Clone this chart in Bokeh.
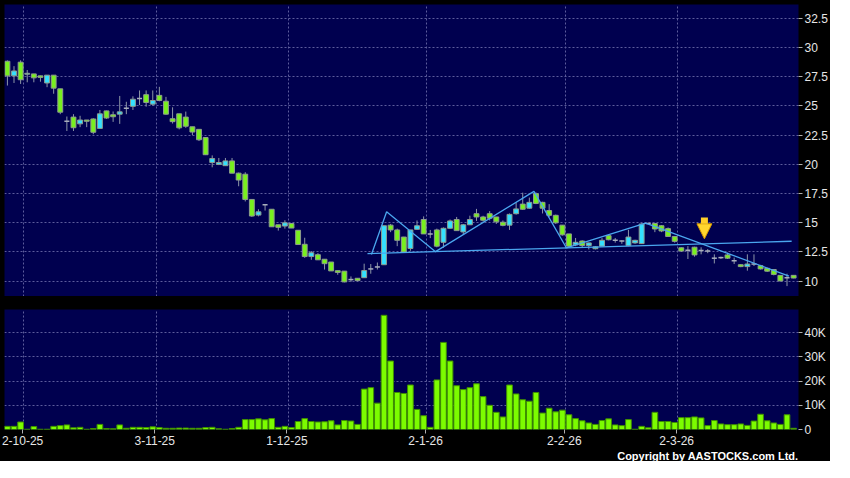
from bokeh.plotting import figure
from bokeh.layouts import column
from bokeh.models import ColumnDataSource, FixedTicker, Range1d, Arrow, NormalHead, Title
from bokeh.embed import file_html
from bokeh.resources import INLINE

# ---------------- data ----------------
open_p = [28.83, 27.58, 28.75, 27.72, 27.75, 27.58, 26.97, 27.64, 26.47, 23.70,
          24.05, 23.47, 23.80, 23.89, 23.08, 24.58, 24.25, 24.30, 24.80, 24.97,
          25.64, 25.97, 25.16, 25.91, 25.41, 23.91, 24.33, 24.05, 23.22, 23.00,
          22.30, 20.16, 20.00, 19.89, 20.30, 19.25, 19.16, 17.00, 15.66, 16.55,
          16.16, 14.83, 14.72, 14.94, 14.36, 13.16, 12.11, 12.27, 11.88, 11.64,
          10.90, 10.86, 10.14, 10.25, 10.30, 11.05, 11.22, 11.41, 14.80, 14.39,
          13.78, 12.80, 14.44, 15.28, 14.05, 14.39, 13.33, 14.53, 15.28, 14.22,
          14.83, 15.78, 15.50, 15.78, 15.50, 15.05, 14.80, 15.78, 16.60, 16.25,
          17.50, 16.75, 16.05, 15.64, 14.80, 14.05, 13.11, 13.44, 13.05, 12.78,
          13.00, 13.90, 13.50, 13.44, 13.05, 13.28, 13.22, 14.95, 14.94, 14.75,
          14.50, 13.83, 12.86, 12.66, 12.91, 12.63, 12.58, 11.97, 12.02, 12.25,
          11.75, 11.41, 11.25, 11.47, 11.33, 11.10, 11.00, 10.50, 10.30, 10.50]
high_p = [28.90, 28.41, 28.91, 28.08, 27.75, 27.60, 27.64, 27.64, 26.47, 24.10,
          24.30, 24.16, 23.80, 23.95, 24.66, 24.60, 24.53, 25.86, 25.36, 25.83,
          26.33, 26.33, 26.33, 26.64, 25.78, 24.89, 24.33, 24.52, 23.22, 23.00,
          22.30, 20.77, 20.55, 20.55, 20.55, 19.30, 19.33, 17.00, 16.16, 16.55,
          16.16, 14.83, 15.22, 14.94, 14.36, 13.72, 12.58, 12.40, 11.88, 11.64,
          10.90, 10.86, 10.41, 10.25, 11.50, 11.47, 11.60, 14.75, 14.90, 14.50,
          13.80, 14.39, 15.20, 15.55, 14.39, 14.50, 14.60, 15.28, 15.50, 14.90,
          15.61, 16.19, 15.60, 16.00, 15.50, 15.20, 15.80, 16.75, 17.58, 17.16,
          17.60, 16.80, 16.60, 15.70, 14.80, 14.05, 13.70, 13.50, 13.30, 13.00,
          13.69, 14.00, 13.70, 13.50, 14.40, 13.55, 14.95, 15.00, 15.00, 14.80,
          14.60, 13.83, 12.90, 13.00, 12.95, 12.90, 12.75, 12.30, 12.10, 12.44,
          12.02, 11.45, 12.30, 12.30, 11.40, 11.15, 11.00, 10.50, 10.64, 10.50]
low_p = [26.75, 26.97, 26.89, 27.03, 27.03, 27.08, 26.61, 26.05, 24.30, 22.86,
         22.86, 23.19, 23.19, 22.58, 23.08, 23.90, 23.64, 23.47, 24.30, 24.66,
         25.08, 24.94, 25.03, 25.40, 24.25, 23.50, 23.00, 23.13, 22.50, 22.00,
         20.80, 19.75, 19.94, 19.89, 19.25, 18.13, 16.83, 15.50, 15.55, 16.05,
         14.66, 14.33, 14.50, 14.55, 13.14, 12.00, 11.83, 11.83, 11.00, 10.88,
         10.55, 9.90, 9.94, 10.00, 10.30, 10.64, 11.00, 11.41, 14.20, 13.00,
         12.45, 12.60, 14.40, 14.05, 13.69, 12.90, 12.86, 14.50, 14.33, 14.00,
         14.83, 15.16, 15.10, 15.20, 14.90, 14.70, 14.39, 15.70, 16.10, 16.20,
         16.60, 15.80, 15.50, 14.90, 13.90, 12.86, 13.00, 12.90, 12.72, 12.72,
         13.00, 13.50, 13.30, 13.20, 13.00, 13.20, 13.20, 14.90, 14.20, 14.20,
         13.80, 13.30, 12.50, 11.90, 12.10, 12.30, 12.40, 11.52, 11.90, 11.90,
         11.47, 11.20, 10.90, 11.30, 11.00, 10.80, 10.50, 10.00, 9.58, 10.25]
close_p = [27.58, 28.00, 27.25, 27.80, 27.41, 27.45, 27.64, 26.53, 24.47, 23.70,
           23.14, 23.80, 23.69, 22.75, 24.33, 23.97, 24.08, 24.50, 24.80, 25.58,
           25.64, 25.30, 25.47, 25.47, 24.30, 23.66, 23.13, 23.27, 22.77, 22.11,
           20.83, 20.50, 20.16, 20.30, 19.25, 18.66, 17.00, 15.58, 15.94, 16.55,
           14.66, 14.61, 15.00, 14.55, 13.14, 12.11, 12.44, 11.83, 11.50, 10.88,
           10.75, 9.94, 10.14, 10.05, 10.91, 11.05, 11.22, 14.75, 14.39, 13.50,
           12.50, 14.39, 14.75, 14.05, 14.05, 13.00, 14.53, 15.16, 14.33, 14.83,
           15.28, 15.50, 15.22, 15.39, 15.08, 14.78, 15.72, 16.19, 16.16, 16.75,
           16.66, 16.25, 15.64, 15.00, 13.97, 13.00, 13.33, 13.05, 13.28, 12.94,
           13.50, 13.55, 13.50, 13.44, 13.78, 13.50, 14.90, 14.95, 14.47, 14.30,
           13.83, 13.41, 12.58, 12.66, 12.25, 12.63, 12.58, 11.97, 12.02, 11.97,
           11.75, 11.25, 11.47, 11.47, 11.05, 10.86, 10.58, 10.02, 10.30, 10.27]
volume_k = [1.3, 1.3, 3.1, 0.1, 1.2, 0.1, 0.1, 1.3, 1.6, 1.9,
            0.7, 0.9, 0.1, 0.4, 2.1, 0.4, 0.3, 1.9, 0.5, 0.9,
            0.9, 0.8, 1.1, 0.8, 0.5, 0.5, 0.6, 0.6, 0.5, 0.5,
            0.8, 0.9, 0.3, 0.1, 0.4, 0.9, 4.1, 4.1, 4.4, 4.0,
            4.5, 0.9, 1.3, 0.8, 3.3, 4.5, 3.3, 3.1, 3.2, 3.6,
            1.9, 3.7, 3.5, 2.1, 16.7, 17.3, 10.9, 47.2, 28.3, 15.3,
            14.9, 18.4, 8.3, 5.7, 0.9, 20.5, 36.0, 28.3, 18.1, 16.5,
            17.3, 18.9, 13.6, 10.0, 7.1, 5.2, 18.4, 14.7, 12.3, 11.7,
            15.3, 6.8, 8.8, 7.3, 8.0, 6.1, 4.5, 3.6, 2.7, 2.1,
            3.7, 4.4, 1.9, 1.6, 4.1, 0.1, 1.3, 0.7, 7.1, 3.3,
            3.3, 2.9, 4.9, 4.9, 5.2, 4.8, 1.6, 3.7, 2.3, 2.0,
            2.0, 2.3, 1.7, 3.5, 6.3, 3.6, 2.7, 2.1, 6.1, 0.5]

date_labels = ["2-10-25", "3-11-25", "1-12-25", "2-1-26", "2-2-26", "2-3-26"]
date_label_idx = [2, 22, 42, 63, 84, 101]
price_ticks = [10, 12.5, 15, 17.5, 20, 22.5, 25, 27.5, 30, 32.5]
volume_ticks = [0, 10, 20, 30, 40]
volume_tick_labels = ["0", "10K", "20K", "30K", "40K"]

# drawn pattern lines and arrow (index, price)
zigzag_idx = [55.1, 57.4, 64.8, 79.7, 84.6, 96.6, 118.3]
zigzag_price = [12.28, 15.94, 12.53, 17.69, 12.86, 14.98, 10.44]
neck_idx = [54.5, 118.7]
neck_price = [12.36, 13.42]
arrow_idx = 105.5
arrow_from = 15.45
arrow_to = 13.63

# ---------------- styling ----------------
NAVY = "#00004F"
GRID = "#5C5C9C"
GREEN = "#78F01E"
CYAN = "#33E0FF"
WICK = "#8C96A6"
TXT = "#E6E6E6"
FONT = "Liberation Sans"

n = len(close_p)
idx = list(range(n))
up = [c > o for o, c in zip(open_p, close_p)]
doji = [c == o for o, c in zip(open_p, close_p)]

src = ColumnDataSource(dict(x=idx, h=high_p, l=low_p))
body_idx = [i for i in idx if not doji[i]]
body_src = ColumnDataSource(dict(
    x=body_idx,
    top=[max(open_p[i], close_p[i]) for i in body_idx],
    bot=[min(open_p[i], close_p[i]) for i in body_idx],
    col=[CYAN if up[i] else GREEN for i in body_idx],
))
doji_idx = [i for i in idx if doji[i]]
doji_src = ColumnDataSource(dict(
    x0=[i - 0.38 for i in doji_idx], x1=[i + 0.38 for i in doji_idx],
    y=[close_p[i] for i in doji_idx],
))

XR = (-0.44, 119.74)
grid_x = [d + 0.5 for d in date_label_idx]
tick_x = [d + 0.3 for d in date_label_idx]

FW = 794

# ---------------- price panel ----------------
p1 = figure(frame_width=FW, frame_height=292,
            x_range=Range1d(*XR), y_range=Range1d(8.69, 33.69),
            output_backend="svg", toolbar_location=None,
            x_axis_location=None, y_axis_location="right",
            min_border_left=4, min_border_right=28, min_border_top=4, min_border_bottom=0,
            background_fill_color=NAVY, border_fill_color="#000000",
            outline_line_color=None)

for g in (p1.xgrid, p1.ygrid):
    g.grid_line_color = GRID
    g.grid_line_dash = "2 2"
    g.grid_line_width = 1
p1.xgrid.ticker = FixedTicker(ticks=grid_x)
p1.yaxis.ticker = FixedTicker(ticks=price_ticks)
p1.yaxis.major_label_overrides = {t: f"{t:g}" for t in price_ticks}

p1.segment(x0="x", y0="h", x1="x", y1="l", source=src, line_color=WICK, line_width=1)
p1.vbar(x="x", top="top", bottom="bot", width=0.74, source=body_src,
        fill_color="col", line_color="#8E9C8E", line_width=1)
p1.segment(x0="x0", y0="y", x1="x1", y1="y", source=doji_src, line_color="#A8AEBC", line_width=1.5)

p1.line(zigzag_idx, zigzag_price, line_color="#4AA6EE", line_width=1.3)
p1.line(neck_idx, neck_price, line_color="#4AA6EE", line_width=1.3)

p1.add_layout(Arrow(end=NormalHead(size=15, fill_color="#FFD62E", line_color="#D99A00", line_width=1),
                    x_start=arrow_idx, y_start=arrow_from, x_end=arrow_idx, y_end=arrow_to,
                    line_color="#FFCF2A", line_width=7))

# ---------------- volume panel ----------------
p2 = figure(frame_width=FW, frame_height=120,
            x_range=p1.x_range, y_range=Range1d(0, 49.6),
            output_backend="svg", toolbar_location=None,
            y_axis_location="right",
            min_border_left=4, min_border_right=28, min_border_top=13, min_border_bottom=0,
            background_fill_color=NAVY, border_fill_color="#000000",
            outline_line_color=None)
for g in (p2.xgrid, p2.ygrid):
    g.grid_line_color = GRID
    g.grid_line_dash = "2 2"
    g.grid_line_width = 1
p2.xgrid.ticker = FixedTicker(ticks=grid_x)
p2.yaxis.ticker = FixedTicker(ticks=volume_ticks)
p2.yaxis.major_label_overrides = dict(zip(volume_ticks, volume_tick_labels))
p2.xaxis.ticker = FixedTicker(ticks=tick_x)
p2.xaxis.major_label_overrides = dict(zip(tick_x, date_labels))

p2.vbar(x=idx, top=volume_k, width=0.86, fill_color="#7CFC00", line_color="#3F8F00", line_width=1)

for p in (p1, p2):
    for ax in p.axis:
        ax.axis_line_color = None
        ax.axis_label = None
        ax.axis_label_standoff = 0
        ax.major_tick_line_color = "#B0B0B0"
        ax.major_tick_in = 0
        ax.major_tick_out = 4
        ax.minor_tick_line_color = None
        ax.major_label_text_color = TXT
        ax.major_label_text_font = FONT
        ax.major_label_text_font_size = "12px"
        ax.major_label_standoff = 2

p2.add_layout(Title(text="Copyright by AASTOCKS.com Ltd.", align="right",
                    text_color="#FFFFFF", text_font=FONT, text_font_size="11px",
                    text_font_style="bold", standoff=0), "below")

layout = column(p1, p2, spacing=0, styles={"background-color": "#000000"})
open("out.html", "w").write(file_html(layout, INLINE))
